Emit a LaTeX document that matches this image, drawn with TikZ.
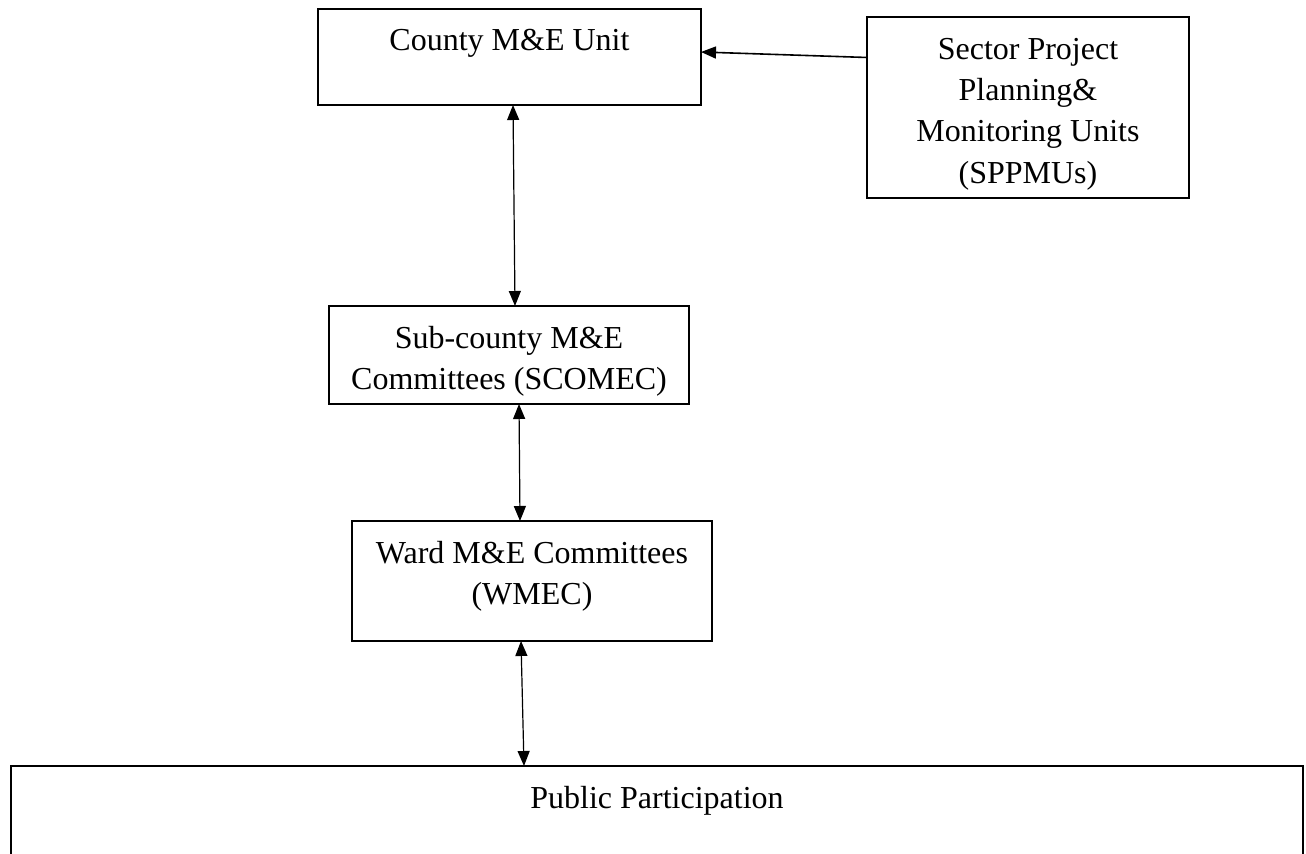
\documentclass[tikz,border=0pt]{standalone}
\usepackage{fontspec}
\setmainfont{Liberation Serif}
\usetikzlibrary{arrows.meta}

\begin{document}
\begin{tikzpicture}
[x=0.5pt,y=-0.5pt,%
  box/.style={draw,line width=0.8pt,inner sep=0pt,outer sep=0pt},%
  caption/.style={anchor=north,align=center,inner sep=0pt,yshift=-10pt,%
    font=\fontsize{16}{20.6}\selectfont},%
  link/.style={line width=0.6pt,{Triangle[length=7.5pt,width=6pt]}-{Triangle[length=7.5pt,width=6pt]}}]
\useasboundingbox (0,0) rectangle (1306,854);
\clip (0,0) rectangle (1306,854);
\node[box,minimum width=191.5pt,minimum height=48pt,
  label={[caption]north:County M\&E Unit}] (county) at (509.5,57) {};
\node[box,minimum width=161pt,minimum height=90.5pt,
  label={[caption,yshift=-0.5pt]north:Sector Project\\Planning\&\\Monitoring Units\\(SPPMUs)}] (spp) at (1028,107.5) {};
\node[box,minimum width=180pt,minimum height=49pt,
  label={[caption]north:Sub-county M\&E\\Committees (SCOMEC)}] (sub) at (509,355) {};
\node[box,minimum width=180pt,minimum height=60pt,
  label={[caption]north:Ward M\&E Committees\\(WMEC)}] (ward) at (532,581) {};
\node[box,line width=1pt,minimum width=646pt,minimum height=100pt,
  label={[caption]north:Public Participation}] (public) at (657,866) {};
\draw[line width=0.8pt,-{Triangle[length=7.5pt,width=6pt]}] ([yshift=25pt]spp.west) -- ([yshift=2.5pt]county.east);
\draw[link] ([xshift=1.75pt]county.south) -- ([xshift=3pt]sub.north);
\draw[link] ([xshift=5pt]sub.south) -- ([xshift=-6pt]ward.north);
\draw[link] ([xshift=-5.5pt]ward.south) -- ([xshift=-66.5pt]public.north);
\end{tikzpicture}
\end{document}
